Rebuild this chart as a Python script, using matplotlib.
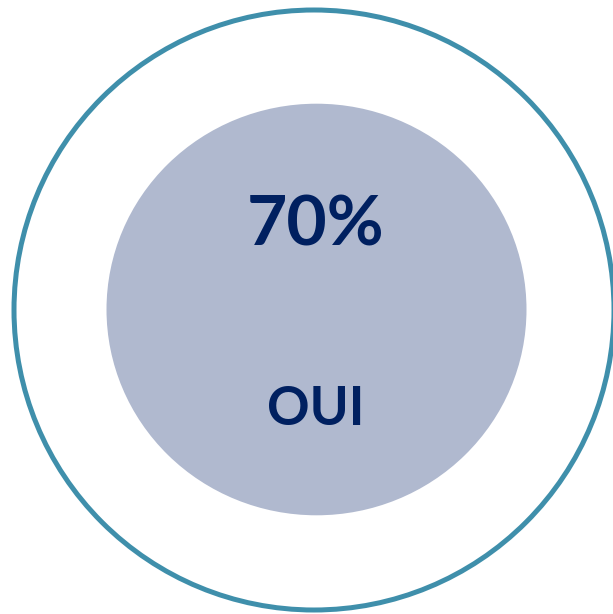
import matplotlib.pyplot as plt
from matplotlib.patches import Circle, Ellipse

# data
value = 70
label = "OUI"
value_text = f"{value}%"

navy = "#002060"
fill_color = "#b0b9cf"
ring_color = "#3f8fab"

fig = plt.figure(figsize=(6.13, 6.14), dpi=100)
ax = fig.add_axes([0, 0, 1, 1])
ax.set_xlim(0, 613)
ax.set_ylim(614, 0)
ax.set_aspect("equal")
ax.axis("off")

# outer ring = 100 %
outer_r = 300
ax.add_patch(Circle((314, 310), outer_r, facecolor="none",
                    edgecolor=ring_color, linewidth=3.6))

# inner disc scaled by the share
scale = value / 100
ax.add_patch(Ellipse((316.5, 309.5), 2 * outer_r * scale * 1.0, 2 * outer_r * scale * 0.98,
                     facecolor=fill_color, edgecolor="none"))

ax.text(316, 246, value_text, ha="center", va="baseline", fontsize=50,
        fontweight="bold", color=navy, family=["Lato", "DejaVu Sans"])
ax.text(316, 425, label, ha="center", va="baseline", fontsize=38,
        fontweight="bold", color=navy, family=["Lato", "DejaVu Sans"])

fig.savefig("out.png", dpi=100)
